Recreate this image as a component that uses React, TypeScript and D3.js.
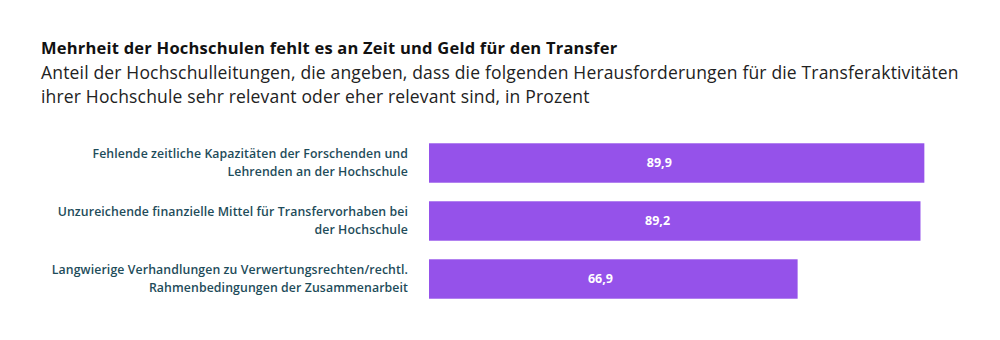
import React from "react";
import * as d3 from "d3";

const categories: string[][] = [
  ["Fehlende zeitliche Kapazitäten der Forschenden und", "Lehrenden an der Hochschule"],
  ["Unzureichende finanzielle Mittel für Transfervorhaben bei", "der Hochschule"],
  ["Langwierige Verhandlungen zu Verwertungsrechten/rechtl.", "Rahmenbedingungen der Zusammenarbeit"],
];
const values: number[] = [89.9, 89.2, 66.9];
const valueLabels: string[] = ["89,9", "89,2", "66,9"];

const title = "Mehrheit der Hochschulen fehlt es an Zeit und Geld für den Transfer";
const subtitle = [
  "Anteil der Hochschulleitungen, die angeben, dass die folgenden Herausforderungen für die Transferaktivitäten",
  "ihrer Hochschule sehr relevant oder eher relevant sind, in Prozent",
];

const W = 1000;
const H = 340;
const FONT = "'Open Sans', Lato, sans-serif";

export default function App() {
  const x = d3.scaleLinear().domain([0, 100]).range([429, 980]);
  const y = d3
    .scaleBand<number>()
    .domain(d3.range(values.length))
    .range([134, 308])
    .paddingInner(0.32)
    .paddingOuter(0.16);

  return (
    <svg
      width={W}
      height={H}
      style={{ position: "absolute", left: 0, top: 0, background: "#fff" }}
      fontFamily={FONT}
    >
      <text x={41} y={54} fontSize={16.5} letterSpacing={0.22} fontWeight={700} fill="#111">
        {title}
      </text>
      {subtitle.map((s, i) => (
        <text key={i} x={41} y={79 + i * 23.5} fontSize={17.5} letterSpacing={0.17} fill="#222">
          {s}
        </text>
      ))}
      {values.map((v, i) => {
        const y0 = y(i)!;
        const bh = y.bandwidth();
        const cy = y0 + bh / 2;
        return (
          <g key={i}>
            <rect x={x(0)} y={y0} width={x(v) - x(0)} height={bh} fill="#9552ea" />
            <text
              x={x(v * 0.465)}
              y={cy}
              dy="0.35em"
              textAnchor="middle"
              fontSize={12.5}
              fontWeight={700}
              fill="#fff"
            >
              {valueLabels[i]}
            </text>
            {categories[i].map((line, j) => (
              <text
                key={j}
                x={408}
                y={cy - 9 + j * 18}
                dy="0.35em"
                textAnchor="end"
                fontSize={12.3}
                letterSpacing={0.1}
                fontWeight={600}
                fill="#1e4c5a"
              >
                {line}
              </text>
            ))}
          </g>
        );
      })}
    </svg>
  );
}
